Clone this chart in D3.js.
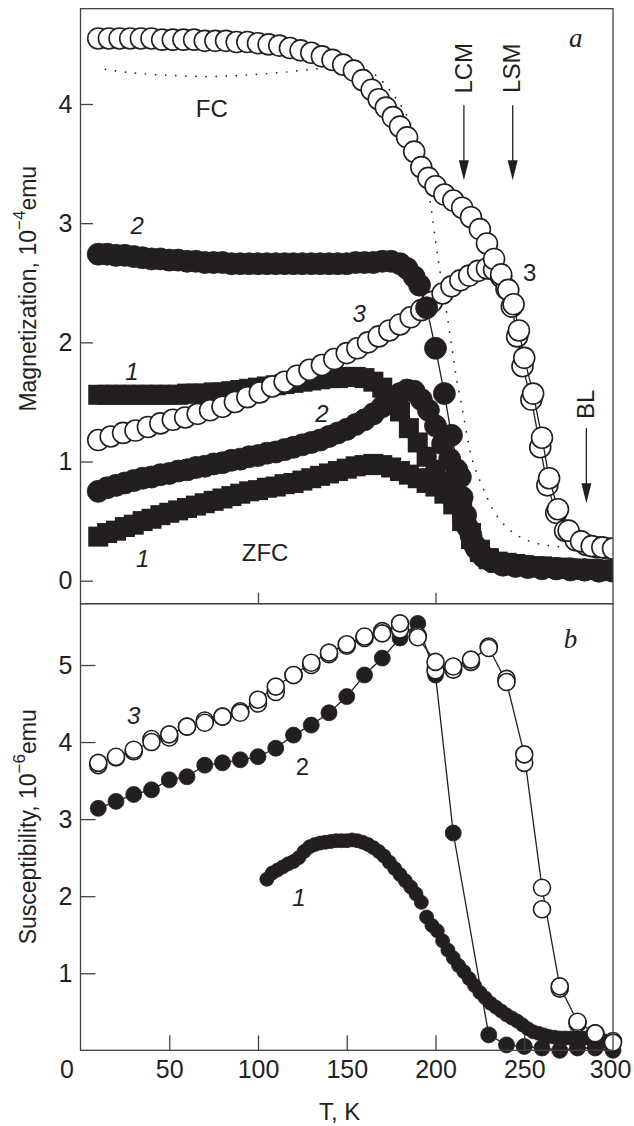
<!DOCTYPE html>
<html>
<head>
<meta charset="utf-8">
<script src="https://cdn.jsdelivr.net/npm/d3@7"></script>
<style>
  body { margin: 0; background: #fff; }
  svg { display: block; font-family: 'Liberation Sans', Arial, sans-serif; }
</style>
</head>
<body>
<div id="chart"></div>
<script>
const width = 634;
const height = 1126;

// ticks
const tempTicks = [0, 50, 100, 150, 200, 250, 300];
const splitTicks = [100, 200];
const magTicks = [0, 1, 2, 3, 4];
const suscTicks = [1, 2, 3, 4, 5];

// panel a: magnetization, 10^-4 emu  [T, M]
const fc3 = [[10,4.55],[16,4.55],[22,4.55],[28,4.55],[34,4.55],[40,4.55],[46,4.54],[52,4.54],[58,4.54],[64,4.54],[70,4.53],[76,4.53],[82,4.53],[88,4.52],[94,4.52],[100,4.51],[106,4.50],[112,4.49],[118,4.47],[124,4.45],[130,4.43],[136,4.40],[142,4.37],[148,4.33],[154,4.28],[159,4.20],[164,4.12],[168,4.04],[172,3.97],[176,3.89],[180,3.81],[184,3.72],[188,3.60],[192,3.47],[196,3.38],[200,3.31],[205,3.24],[210,3.19],[215,3.13],[220,3.05],[225,2.95],[229,2.83],[233,2.70],[237,2.57],[241,2.44],[244,2.32],[247,2.10],[250,1.87],[255,1.57],[260,1.20],[264,0.86],[269,0.60],[275,0.42],[282,0.33],[288,0.29],[294,0.28],[300,0.27]];
const zfc3 = [[10,1.18],[17,1.21],[24,1.24],[31,1.26],[38,1.29],[45,1.32],[52,1.35],[59,1.37],[66,1.40],[73,1.43],[80,1.46],[87,1.50],[94,1.54],[101,1.58],[108,1.63],[115,1.67],[122,1.72],[129,1.77],[136,1.81],[143,1.86],[150,1.91],[156,1.95],[162,2.00],[168,2.05],[174,2.10],[180,2.15],[186,2.21],[192,2.27],[198,2.34],[204,2.41],[209,2.47],[214,2.52],[219,2.56],[224,2.60],[229,2.62],[233,2.61],[237,2.55],[240,2.45],[243,2.30],[246,2.05],[249,1.80],[254,1.52],[259,1.12],[263,0.80],[268,0.57],[273,0.42],[279,0.34],[285,0.30],[291,0.28],[297,0.27]];
const fcDotted = [[14,4.29],[30,4.26],[50,4.24],[71,4.23],[90,4.24],[110,4.26],[130,4.29],[145,4.31],[155,4.31],[162,4.28],[168,4.22],[174,4.12],[179,4.02],[184,3.90],[188,3.75],[191,3.60],[194,3.45],[196,3.28],[198,3.08],[200,2.85],[202,2.65],[204,2.45],[206,2.28],[208,2.08],[210,1.88],[212,1.68],[215,1.45],[218,1.20],[221,1.00],[225,0.84],[229,0.70],[233,0.58],[238,0.48],[244,0.40],[250,0.35],[258,0.31],[266,0.29],[275,0.28],[285,0.27],[295,0.26],[300,0.26]];
const fc2 = [[10,2.74],[15,2.74],[20,2.73],[25,2.73],[30,2.72],[35,2.71],[40,2.70],[45,2.70],[50,2.69],[55,2.69],[60,2.68],[65,2.68],[70,2.67],[75,2.67],[80,2.67],[85,2.66],[90,2.66],[95,2.66],[100,2.66],[105,2.66],[110,2.66],[115,2.66],[120,2.66],[125,2.66],[130,2.66],[135,2.66],[140,2.66],[145,2.66],[150,2.66],[155,2.67],[160,2.67],[165,2.67],[170,2.68],[175,2.68],[180,2.66],[184,2.62],[188,2.55],[191,2.48],[195,2.29],[200,1.95],[205,1.57],[209,1.22],[214,0.87],[217,0.55],[220,0.38],[223,0.27],[227,0.20],[232,0.16],[238,0.13],[245,0.12],[252,0.11],[260,0.10],[268,0.10],[276,0.09],[284,0.09],[292,0.08],[300,0.08]];
const zfc2 = [[10,0.75],[15,0.78],[20,0.80],[25,0.82],[30,0.84],[35,0.86],[40,0.87],[45,0.89],[50,0.90],[55,0.92],[60,0.93],[65,0.95],[70,0.96],[75,0.98],[80,0.99],[85,1.01],[90,1.02],[95,1.04],[100,1.05],[105,1.07],[110,1.08],[115,1.10],[120,1.12],[125,1.14],[130,1.16],[135,1.18],[140,1.21],[145,1.24],[150,1.27],[155,1.31],[160,1.35],[165,1.40],[170,1.46],[175,1.52],[180,1.57],[184,1.60],[188,1.59],[192,1.52],[196,1.43],[200,1.30],[204,1.15],[208,1.02],[212,0.93],[215,0.70],[218,0.45],[222,0.30],[226,0.22],[231,0.17],[237,0.14],[244,0.13],[252,0.12],[260,0.11],[268,0.10],[276,0.10],[284,0.09],[292,0.09],[300,0.09]];
const fc1 = [[10,1.56],[15,1.56],[20,1.56],[25,1.56],[30,1.56],[35,1.56],[40,1.56],[45,1.56],[50,1.56],[55,1.56],[60,1.57],[65,1.57],[70,1.57],[75,1.58],[80,1.58],[85,1.59],[90,1.60],[95,1.61],[100,1.62],[105,1.63],[110,1.64],[115,1.65],[120,1.66],[125,1.67],[130,1.68],[135,1.69],[140,1.70],[145,1.70],[150,1.71],[155,1.71],[160,1.70],[165,1.67],[170,1.62],[175,1.53],[180,1.42],[185,1.28],[190,1.16],[195,1.04],[200,0.93],[205,0.83],[210,0.72],[215,0.58],[220,0.40],[225,0.26],[230,0.19],[235,0.16],[240,0.15],[245,0.14],[250,0.13],[255,0.12],[260,0.12],[265,0.11],[270,0.11],[275,0.10],[280,0.10],[285,0.10],[290,0.09],[295,0.09],[300,0.09]];
const zfc1 = [[10,0.37],[15,0.40],[20,0.42],[25,0.45],[30,0.47],[35,0.50],[40,0.52],[45,0.55],[50,0.57],[55,0.59],[60,0.61],[65,0.63],[70,0.65],[75,0.67],[80,0.69],[85,0.71],[90,0.73],[95,0.75],[100,0.76],[105,0.78],[110,0.79],[115,0.81],[120,0.82],[125,0.84],[130,0.86],[135,0.88],[140,0.90],[145,0.92],[150,0.94],[155,0.96],[160,0.97],[165,0.98],[170,0.97],[175,0.95],[180,0.92],[185,0.89],[190,0.86],[195,0.82],[200,0.79],[205,0.73],[210,0.64],[215,0.50],[220,0.35],[225,0.24],[230,0.18],[235,0.15],[240,0.14],[245,0.13],[250,0.12],[255,0.12],[260,0.11],[265,0.11],[270,0.10],[275,0.10],[280,0.10],[285,0.09],[290,0.09],[295,0.09],[300,0.08]];

// panel b: susceptibility, 10^-6 emu  [T, chi]
const chi3a = [[10,3.73],[20,3.81],[30,3.90],[40,4.00],[50,4.10],[60,4.20],[70,4.25],[80,4.33],[90,4.38],[100,4.55],[110,4.72],[120,4.87],[130,5.03],[140,5.16],[150,5.27],[160,5.37],[170,5.41],[180,5.54],[190,5.36],[200,5.04],[210,4.98],[220,5.07],[230,5.22],[240,4.78],[250,3.84],[260,2.11],[270,0.83],[280,0.37],[290,0.22],[300,0.10]];
const chi3b = [[10,3.70],[20,3.80],[30,3.88],[40,4.04],[50,4.06],[60,4.20],[70,4.28],[80,4.33],[90,4.40],[100,4.50],[110,4.65],[120,4.87],[130,5.00],[140,5.14],[150,5.25],[160,5.35],[170,5.44],[180,5.46],[190,5.38],[200,4.93],[210,4.94],[220,5.04],[230,5.24],[240,4.82],[250,3.73],[260,1.83],[270,0.80],[280,0.35],[290,0.22],[300,0.12]];
const chi2 = [[10,3.14],[20,3.23],[30,3.32],[40,3.38],[50,3.51],[60,3.55],[70,3.70],[80,3.73],[90,3.77],[100,3.81],[110,3.92],[120,4.09],[130,4.22],[140,4.38],[150,4.59],[160,4.87],[170,5.09],[180,5.35],[190,5.54],[200,4.87],[210,2.82],[230,0.20],[240,0.07],[250,0.05],[260,0.03],[270,0.00],[280,0.03],[290,0.03],[300,0.00]];
const chi1 = [[105,2.22],[108,2.30],[111,2.34],[114,2.38],[117,2.42],[120,2.45],[123,2.50],[126,2.58],[129,2.64],[132,2.67],[135,2.69],[138,2.70],[141,2.71],[144,2.72],[147,2.72],[150,2.72],[153,2.73],[156,2.72],[159,2.70],[162,2.67],[165,2.63],[168,2.58],[171,2.52],[174,2.44],[177,2.36],[180,2.28],[183,2.20],[186,2.12],[189,2.03],[192,1.92],[195,1.73],[198,1.62],[201,1.55],[204,1.42],[207,1.30],[210,1.20],[213,1.10],[216,1.02],[219,0.93],[222,0.84],[225,0.75],[228,0.68],[231,0.61],[234,0.56],[237,0.51],[240,0.46],[243,0.42],[246,0.38],[249,0.33],[252,0.28],[255,0.24],[258,0.22],[261,0.20],[264,0.18],[267,0.17],[270,0.16],[273,0.16],[276,0.16],[279,0.16],[282,0.16],[285,0.16],[288,0.15],[291,0.14],[294,0.13],[297,0.11],[300,0.08]];

const ink = '#231f20';
const frameColor = '#444';

const x = d3.scaleLinear().domain([0, 300]).range([80.5, 613]);
const yA = d3.scaleLinear().domain([0, 4]).range([580.7, 104]);
const yB = d3.scaleLinear().domain([0, 5]).range([1050.3, 665]);

const topA = yA(4.8);
const split = yA(-0.193);
const bottom = yB(0);

const svg = d3.select('#chart').append('svg')
    .attr('width', width)
    .attr('height', height);

svg.append('defs').append('clipPath')
    .attr('id', 'clipA')
  .append('rect')
    .attr('x', x(0)).attr('y', topA)
    .attr('width', x(300) - x(0)).attr('height', split - topA);

function line(g, data, y, opts) {
  g.append('path')
    .datum(data)
    .attr('fill', 'none')
    .attr('stroke', ink)
    .attr('stroke-width', opts.width || 1.3)
    .attr('stroke-dasharray', opts.dash || null)
    .attr('stroke-linecap', opts.cap || 'butt')
    .attr('d', d3.line().curve(opts.curve || d3.curveLinear).x(d => x(d[0])).y(d => y(d[1])));
}

function circles(g, data, y, r, filled) {
  g.append('g').selectAll('circle')
    .data(data)
    .join('circle')
      .attr('cx', d => x(d[0]))
      .attr('cy', d => y(d[1]))
      .attr('r', r)
      .attr('fill', filled ? ink : '#fff')
      .attr('stroke', ink)
      .attr('stroke-width', filled ? 0.8 : 1.6);
}

function squares(g, data, y, s) {
  g.append('g').selectAll('rect')
    .data(data)
    .join('rect')
      .attr('x', d => x(d[0]) - s / 2)
      .attr('y', d => y(d[1]) - s / 2)
      .attr('width', s)
      .attr('height', s)
      .attr('fill', ink);
}

// ---- panel a
const gA = svg.append('g').attr('clip-path', 'url(#clipA)');
line(gA, fcDotted, yA, { width: 1.7, dash: '0.1 10', cap: 'round', curve: d3.curveCatmullRom });
squares(gA, zfc1, yA, 20);
squares(gA, fc1, yA, 20);
circles(gA, zfc2, yA, 11, true);
line(gA, zfc3, yA, {});
circles(gA, zfc3, yA, 10.5, false);
line(gA, fc2, yA, {});
circles(gA, fc2, yA, 11, true);
line(gA, fc3, yA, {});
circles(gA, fc3, yA, 10.5, false);

// ---- panel b
const gB = svg.append('g');
line(gB, chi2, yB, {});
line(gB, chi3a, yB, {});
circles(gB, chi1, yB, 7, true);
circles(gB, chi2, yB, 8, true);
circles(gB, chi3b, yB, 8.5, false);
circles(gB, chi3a, yB, 8.5, false);

// ---- frames
const frame = svg.append('g')
    .attr('fill', 'none')
    .attr('stroke', frameColor)
    .attr('stroke-width', 1.3);
frame.append('rect')
    .attr('x', x(0)).attr('y', topA)
    .attr('width', x(300) - x(0)).attr('height', split - topA);
frame.append('rect')
    .attr('x', x(0)).attr('y', split)
    .attr('width', x(300) - x(0)).attr('height', bottom - split);

function styleAxis(g) {
  g.select('.domain').remove();
  g.selectAll('.tick line').attr('stroke', frameColor).attr('stroke-width', 1.3);
  g.selectAll('.tick text')
    .attr('fill', ink)
    .attr('font-size', 25)
    .attr('font-family', "'Liberation Sans', Arial, sans-serif");
}

svg.append('g')
    .attr('transform', `translate(${x(0)},0)`)
    .call(d3.axisLeft(yA).tickValues(magTicks).tickSize(-12.5).tickPadding(8).tickFormat(d3.format('d')))
    .call(styleAxis);

svg.append('g')
    .attr('transform', `translate(${x(0)},0)`)
    .call(d3.axisLeft(yB).tickValues(suscTicks).tickSize(-15).tickPadding(8).tickFormat(d3.format('d')))
    .call(styleAxis);

const xAxis = svg.append('g')
    .attr('transform', `translate(0,${bottom})`)
    .call(d3.axisBottom(x).tickValues(tempTicks).tickSize(-15).tickPadding(10).tickFormat(d3.format('d')))
    .call(styleAxis);
xAxis.selectAll('.tick')
    .filter(d => d === 0 || d === 300)
    .select('line').remove();
xAxis.selectAll('.tick text')
    .filter(d => d === 0)
    .attr('dx', -14);
xAxis.selectAll('.tick text')
    .filter(d => d === 300)
    .attr('dx', -3);

svg.append('g')
    .attr('transform', `translate(0,${split})`)
    .call(d3.axisTop(x).tickValues(splitTicks).tickSize(11).tickFormat(''))
    .call(styleAxis);

// ---- axis titles
const titleA = svg.append('text')
    .attr('transform', `translate(36,${yA(2.45)}) rotate(-90)`)
    .attr('text-anchor', 'middle')
    .attr('font-size', 23)
    .attr('fill', ink);
titleA.append('tspan').text('Magnetization,  10');
titleA.append('tspan').attr('dy', -11).attr('font-size', 17).text('−4');
titleA.append('tspan').attr('dy', 11).text('emu');

const titleB = svg.append('text')
    .attr('transform', `translate(36,${yB(2.9)}) rotate(-90)`)
    .attr('text-anchor', 'middle')
    .attr('font-size', 23)
    .attr('fill', ink);
titleB.append('tspan').text('Susceptibility,  10');
titleB.append('tspan').attr('dy', -11).attr('font-size', 17).text('−6');
titleB.append('tspan').attr('dy', 11).text('emu');

svg.append('text')
    .attr('x', x(146))
    .attr('y', 1120)
    .attr('text-anchor', 'middle')
    .attr('font-size', 24)
    .attr('fill', ink)
    .text('T,  K');

// ---- annotations
const notes = [
  { t: 74, v: 3.96, y: yA, text: 'FC', italic: false },
  { t: 104, v: 0.24, y: yA, text: 'ZFC', italic: false },
  { t: 32, v: 2.98, y: yA, text: '2', italic: true },
  { t: 29, v: 1.76, y: yA, text: '1', italic: true },
  { t: 35, v: 0.19, y: yA, text: '1', italic: true },
  { t: 157, v: 2.24, y: yA, text: '3', italic: true },
  { t: 136, v: 1.40, y: yA, text: '2', italic: true },
  { t: 253, v: 2.59, y: yA, text: '3', italic: false },
  { t: 30, v: 4.35, y: yB, text: '3', italic: true },
  { t: 125, v: 3.68, y: yB, text: '2', italic: false },
  { t: 123, v: 1.98, y: yB, text: '1', italic: true }
];
svg.append('g')
    .attr('font-size', 24)
    .attr('fill', ink)
    .attr('text-anchor', 'middle')
  .selectAll('text')
  .data(notes)
  .join('text')
    .attr('x', d => x(d.t))
    .attr('y', d => d.y(d.v))
    .attr('dy', '0.36em')
    .attr('font-style', d => d.italic ? 'italic' : 'normal')
    .text(d => d.text);

// panel letters
svg.append('g')
    .attr('font-family', "'Liberation Serif', 'DejaVu Serif', serif")
    .attr('font-style', 'italic')
    .attr('font-size', 27)
    .attr('fill', ink)
    .attr('text-anchor', 'middle')
  .selectAll('text')
  .data([{ t: 279, v: 4.55, y: yA, text: 'a' }, { t: 276, v: 5.32, y: yB, text: 'b' }])
  .join('text')
    .attr('x', d => x(d.t))
    .attr('y', d => d.y(d.v))
    .attr('dy', '0.3em')
    .text(d => d.text);

// arrows
const arrows = [
  { t: 216, label: 'LCM', labelV: 4.30, from: 3.99, to: 3.36 },
  { t: 243.5, label: 'LSM', labelV: 4.30, from: 3.99, to: 3.36 },
  { t: 285, label: 'BL', labelV: 1.48, from: 1.28, to: 0.65 }
];
const ag = svg.append('g');
arrows.forEach(a => {
  const ax = x(a.t);
  ag.append('line')
    .attr('x1', ax).attr('x2', ax)
    .attr('y1', yA(a.from)).attr('y2', yA(a.to) - 10)
    .attr('stroke', ink).attr('stroke-width', 1.3);
  ag.append('path')
    .attr('d', `M${ax - 5},${yA(a.to) - 20}L${ax + 5},${yA(a.to) - 20}L${ax},${yA(a.to)}Z`)
    .attr('fill', ink);
  ag.append('text')
    .attr('transform', `translate(${ax - 1},${yA(a.labelV)}) rotate(-90)`)
    .attr('text-anchor', 'middle')
    .attr('dy', '0.36em')
    .attr('font-size', 24)
    .attr('fill', ink)
    .text(a.label);
});
</script>
</body>
</html>
